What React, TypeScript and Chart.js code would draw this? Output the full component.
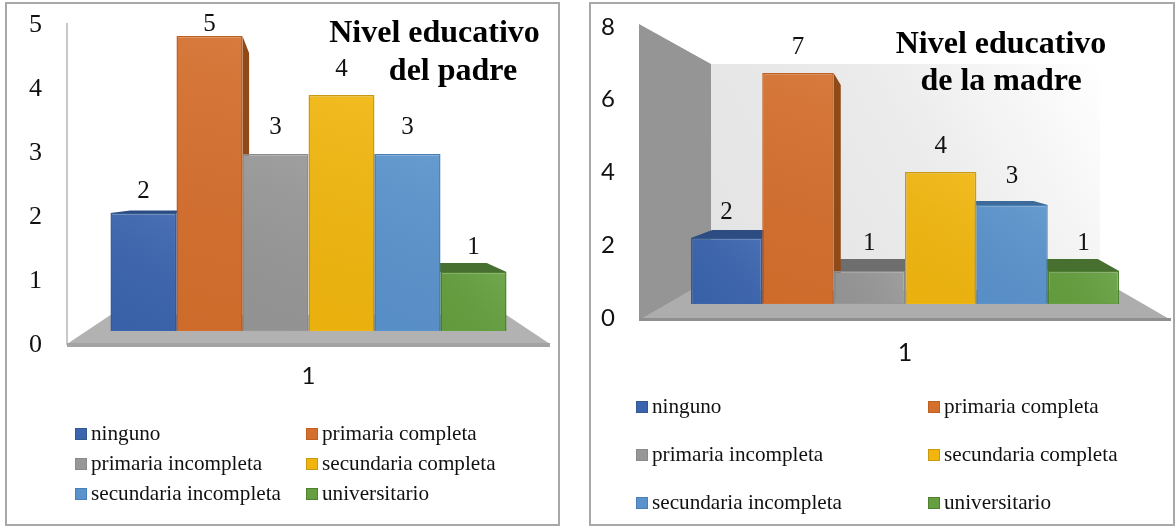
import React, { useEffect, useRef } from "react";
import { Chart, registerables } from "chart.js";

Chart.register(...registerables);

const categories = ["1"];
const seriesNames = [
  "ninguno",
  "primaria completa",
  "primaria incompleta",
  "secundaria completa",
  "secundaria incompleta",
  "universitario",
];
const fatherValues = [2, 5, 3, 4, 3, 1];
const motherValues = [2, 7, 1, 4, 3, 1];
const fatherTicks = [0, 1, 2, 3, 4, 5];
const motherTicks = [0, 2, 4, 6, 8];

const frontColors = ["#3A64AE", "#D56F2D", "#979797", "#F1B60E", "#5A93CC", "#659F3F"];
const edgeColors = ["#33598F", "#BF5F22", "#8A8A8A", "#C99A10", "#4A80B8", "#4E8030"];
const topColors = ["#2C4C82", "#A4521A", "#6E6E6E", "#B08A10", "#3D6C9A", "#477030"];
const sideColors = ["#2C4C82", "#8F4A18", "#6E6E6E", "#B08A10", "#3D6C9A", "#477030"];

const SERIF = '"Liberation Serif", serif';
const SANS = "Lato, sans-serif";

type Panel = {
  originX: number;
  canvasWidth: number;
  frame: [number, number, number, number];
  areaLeft: number;
  areaRight: number;
  areaTop: number;
  areaBottom: number;
  barZero: number;
  unit: number;
  groupShare: number;
  vanishY: number;
  depthY: number;
  tickFont: any;
  tickPad: number;
  xFont: any;
  xPad: number;
  yMax: number;
  step: number;
  titleLines: { text: string; cx: number; base: number }[];
  labelGaps: number[];
  legendX: [number, number];
  legendY: number[];
  values: number[];
  ticks: number[];
  decor: "plain" | "walled";
};

const panels: Panel[] = [
  {
    originX: 0,
    canvasWidth: 575,
    frame: [6, 3, 559, 525],
    areaLeft: 67,
    areaRight: 550,
    areaTop: 25,
    areaBottom: 345,
    barZero: 331,
    unit: 59,
    groupShare: 0.82,
    vanishY: 190,
    depthY: 0.11,
    tickFont: { family: SERIF, size: 26 },
    tickPad: 25,
    xFont: { family: SANS, size: 24 },
    xPad: 17,
    yMax: 5,
    step: 1,
    titleLines: [
      { text: "Nivel educativo", cx: 434.5, base: 42 },
      { text: "del padre", cx: 453, base: 80 },
    ],
    labelGaps: [22, 12, 27, 26, 27, 25],
    legendX: [75, 306],
    legendY: [434, 464, 494],
    values: fatherValues,
    ticks: fatherTicks,
    decor: "plain",
  },
  {
    originX: 575,
    canvasWidth: 601,
    frame: [590, 3, 1174, 525],
    areaLeft: 639,
    areaRight: 1171,
    areaTop: 27,
    areaBottom: 318,
    barZero: 304,
    unit: 33,
    groupShare: 0.805,
    vanishY: 172,
    depthY: 0.12,
    tickFont: { family: SANS, size: 24 },
    tickPad: 24,
    xFont: { family: SANS, size: 25 },
    xPad: 20,
    yMax: 8,
    step: 2,
    titleLines: [
      { text: "Nivel educativo", cx: 1001, base: 53 },
      { text: "de la madre", cx: 1001, base: 90 },
    ],
    labelGaps: [26, 26, 28, 26, 29, 28],
    legendX: [636, 928],
    legendY: [407, 455, 503],
    values: motherValues,
    ticks: motherTicks,
    decor: "walled",
  },
];

const DEPTH = 0.1;

function poly(ctx: CanvasRenderingContext2D, pts: number[][], fill: any) {
  ctx.beginPath();
  pts.forEach((p, i) => (i ? ctx.lineTo(p[0], p[1]) : ctx.moveTo(p[0], p[1])));
  ctx.closePath();
  ctx.fillStyle = fill;
  ctx.fill();
}

function scenePlugin(p: Panel) {
  return {
    id: "scene",
    beforeDraw(chart: any) {
      const ctx: CanvasRenderingContext2D = chart.ctx;
      const ox = p.originX;
      const metas = seriesNames.map((_, i) => chart.getDatasetMeta(i).data[0]);
      const gl = metas[0].x - metas[0].width / 2 + ox;
      const gr = metas[5].x + metas[5].width / 2 + ox;
      ctx.save();
      ctx.translate(-ox, 0);
      ctx.fillStyle = "#ffffff";
      ctx.fillRect(ox, 0, p.canvasWidth, 529);
      ctx.lineWidth = 2;
      ctx.strokeStyle = "#a8a8a8";
      const [fx0, fy0, fx1, fy1] = p.frame;
      ctx.strokeRect(fx0, fy0, fx1 - fx0, fy1 - fy0);

      if (p.decor === "walled") {
        const g = ctx.createLinearGradient(711, 290, 1100, 64);
        g.addColorStop(0, "#e3e3e3");
        g.addColorStop(0.55, "#ebebeb");
        g.addColorStop(1, "#ffffff");
        ctx.fillStyle = g;
        ctx.fillRect(711, 64, 389, 228);
        poly(ctx, [[p.areaLeft, 24], [711, 64], [711, 290], [p.areaLeft, 320]], "#959595");
        poly(ctx, [[p.areaLeft, 320], [gl, 290], [gr, 290], [p.areaRight, 320]], "#adadad");
        ctx.fillStyle = "#8f8f8f";
        ctx.fillRect(p.areaLeft, 318, p.areaRight - p.areaLeft, 3);
      } else {
        ctx.fillStyle = "#c8c8c8";
        ctx.fillRect(p.areaLeft - 1, 23, 2, 322);
        poly(ctx, [[p.areaLeft, 344], [gl, 315], [gr, 315], [p.areaRight, 344]], "#b2b2b2");
        ctx.fillStyle = "#a3a3a3";
        ctx.fillRect(p.areaLeft, 343, p.areaRight - p.areaLeft, 4);
      }
      ctx.restore();
    },
    beforeDatasetsDraw(chart: any) {
      const ctx: CanvasRenderingContext2D = chart.ctx;
      const ox = p.originX;
      const metas = seriesNames.map((_, i) => chart.getDatasetMeta(i).data[0]);
      ctx.save();
      ctx.translate(-ox, 0);
      const vx = (p.areaLeft + p.areaRight) / 2;
      const back = (x: number, y: number) => [x + (vx - x) * DEPTH, y + (p.vanishY - y) * p.depthY];
      metas.forEach((b: any, i: number) => {
        const x0 = b.x - b.width / 2 + ox;
        const x1 = b.x + b.width / 2 + ox;
        if (b.y > p.vanishY + 2) {
          poly(ctx, [[x0, b.y], [x1, b.y], back(x1, b.y), back(x0, b.y)], topColors[i]);
        }
      });
      metas.forEach((b: any, i: number) => {
        const x0 = b.x - b.width / 2 + ox;
        const x1 = b.x + b.width / 2 + ox;
        if (x1 < vx - 1) {
          poly(ctx, [[x1, b.y], back(x1, b.y), back(x1, b.base), [x1, b.base]], sideColors[i]);
        } else if (x0 > vx + 1) {
          poly(ctx, [[x0, b.y], back(x0, b.y), back(x0, b.base), [x0, b.base]], sideColors[i]);
        }
      });
      ctx.restore();
    },
    afterDatasetsDraw(chart: any) {
      const ctx: CanvasRenderingContext2D = chart.ctx;
      const ox = p.originX;
      ctx.save();
      seriesNames.forEach((name, i) => {
        const b = chart.getDatasetMeta(i).data[0];
        const x0 = b.x - b.width / 2;
        const g = ctx.createLinearGradient(x0, b.base, x0 + b.width, b.y);
        g.addColorStop(0, "rgba(0,0,0,0.03)");
        g.addColorStop(1, "rgba(255,255,255,0.08)");
        ctx.fillStyle = g;
        ctx.fillRect(x0 + 1, b.y + 1, b.width - 2, b.base - b.y - 2);
        ctx.fillStyle = "#111111";
        ctx.font = `25px ${SERIF}`;
        ctx.textAlign = "center";
        ctx.textBaseline = "middle";
        ctx.fillText(String(p.values[i]), b.x, b.y - p.labelGaps[i]);
      });
      ctx.font = `bold 32px ${SERIF}`;
      ctx.textBaseline = "alphabetic";
      ctx.fillStyle = "#000000";
      p.titleLines.forEach((l) => ctx.fillText(l.text, l.cx - ox, l.base));

      ctx.font = `21.2px ${SERIF}`;
      ctx.textAlign = "left";
      ctx.textBaseline = "middle";
      seriesNames.forEach((name, i) => {
        const sx = p.legendX[i % 2] - ox;
        const sy = p.legendY[Math.floor(i / 2)];
        ctx.fillStyle = frontColors[i];
        ctx.fillRect(sx, sy - 6, 12, 12);
        ctx.strokeStyle = edgeColors[i];
        ctx.lineWidth = 1;
        ctx.strokeRect(sx + 0.5, sy - 5.5, 11, 11);
        ctx.fillStyle = "#111111";
        ctx.fillText(name, sx + 16, sy);
      });
      ctx.restore();
    },
  };
}

function ChartPanel({ panel: p }: { panel: Panel }) {
  const ref = useRef<HTMLCanvasElement | null>(null);
  useEffect(() => {
    const chart = new Chart(ref.current as HTMLCanvasElement, {
      type: "bar",
      data: {
        labels: categories,
        datasets: seriesNames.map((name, i) => ({
          label: name,
          data: [p.values[i]],
          backgroundColor: frontColors[i],
          borderColor: edgeColors[i],
          borderWidth: 1.5,
          yAxisID: "bars",
          categoryPercentage: p.groupShare,
          barPercentage: 1,
        })),
      },
      options: {
        animation: false,
        responsive: false,
        devicePixelRatio: 1,
        layout: {
          padding: {
            top: p.areaTop,
            right: p.originX + p.canvasWidth - p.areaRight,
            left: 0,
            bottom: 0,
          },
        },
        plugins: { legend: { display: false }, title: { display: false }, tooltip: { enabled: false } },
        scales: {
          x: {
            grid: { display: false, drawTicks: false },
            border: { display: false },
            ticks: { font: p.xFont, color: "#111111", padding: p.xPad },
            afterFit: (s: any) => {
              s.height = 529 - p.areaBottom;
              s.paddingLeft = 0;
              s.paddingRight = 0;
            },
          },
          y: {
            position: "left",
            min: 0,
            max: p.yMax,
            grid: { display: false, drawTicks: false },
            border: { display: false },
            ticks: { font: p.tickFont, color: "#111111", padding: p.tickPad, stepSize: p.step, autoSkip: false },
            afterFit: (s: any) => {
              s.width = p.areaLeft - p.originX;
              s.paddingTop = 0;
              s.paddingBottom = 0;
            },
          },
          bars: {
            display: false,
            bounds: "data",
            min: (p.barZero - p.areaBottom) / p.unit,
            max: (p.barZero - p.areaTop) / p.unit,
          },
        },
      } as any,
      plugins: [scenePlugin(p)],
    });
    return () => chart.destroy();
  }, [p]);
  return (
    <canvas
      ref={ref}
      width={p.canvasWidth}
      height={529}
      style={{ position: "absolute", left: p.originX, top: 0, width: p.canvasWidth, height: 529 }}
    />
  );
}

export default function App() {
  return (
    <div style={{ position: "fixed", left: 0, top: 0, width: 1176, height: 529, background: "#ffffff", overflow: "hidden" }}>
      {panels.map((p) => (
        <ChartPanel key={p.originX} panel={p} />
      ))}
    </div>
  );
}
